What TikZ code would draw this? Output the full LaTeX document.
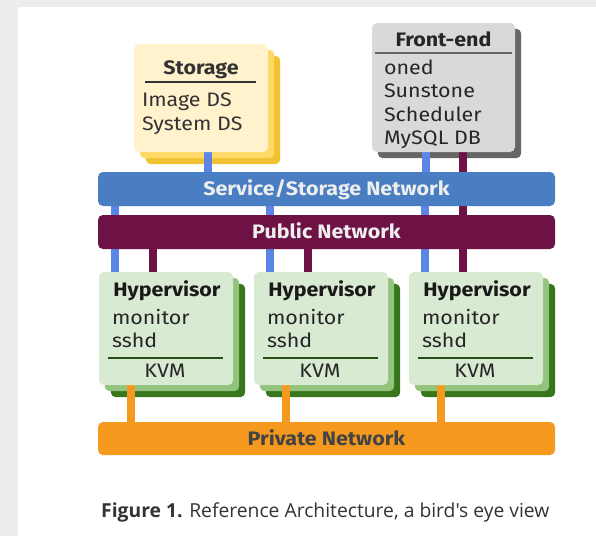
\documentclass[tikz,border=0pt]{standalone}
\usepackage{fontspec}
\setmainfont{Fira Sans}[FakeStretch=1.1]
\newfontfamily\capfont{Open Sans}
\definecolor{pagegray}{HTML}{EDEDED}
\definecolor{txt}{HTML}{333333}
\definecolor{ylwA}{HTML}{FFF2CC}
\definecolor{ylwB}{HTML}{FFD966}
\definecolor{ylwC}{HTML}{F1C232}
\definecolor{gryA}{HTML}{D9D9D9}
\definecolor{gryB}{HTML}{666666}
\definecolor{grnA}{HTML}{D9EAD3}
\definecolor{grnB}{HTML}{93C47D}
\definecolor{grnC}{HTML}{38761D}
\definecolor{grnRule}{HTML}{274E13}
\definecolor{svcBlue}{HTML}{4A7EC2}
\definecolor{wireBlue}{HTML}{5B86E5}
\definecolor{pubPurple}{HTML}{6E1246}
\definecolor{privOrange}{HTML}{F6991F}
\definecolor{barText}{HTML}{EEEEEE}
\definecolor{privText}{HTML}{434343}
\pgfdeclarelayer{pagelayer}
\pgfdeclarelayer{shadowlayer}
\pgfdeclarelayer{wirelayer}
\pgfsetlayers{pagelayer,shadowlayer,wirelayer,main}
\tikzset{
  panel/.style={rounded corners=5pt, inner sep=0pt},
  boxtext/.style={font=\fontsize{19.5}{23}\selectfont, text=txt, inner sep=0pt},
  boxtitle/.style={font=\fontsize{19.5}{23}\selectfont\bfseries, text=txt, inner sep=0pt},
  bar/.style={rounded corners=5pt, minimum width=457pt, inner sep=0pt,
    text height=13.4pt, text depth=0pt, font=\fontsize{19.5}{23}\selectfont\bfseries},
  wire/.style={line width=8pt},
  boxrule/.style={line width=1.8pt, draw=txt},
}
\begin{document}
\begin{tikzpicture}[x=1pt,y=-1pt]
\useasboundingbox (0,0) rectangle (596,536);
\begin{pgfonlayer}{pagelayer}
  \fill[pagegray] (0,0) rectangle (596,536);
  \fill[white] (18,7) rectangle (596,536);
\end{pgfonlayer}

% network bars
\node[bar, fill=svcBlue, text=barText, minimum height=34pt] (svc) at (326.5,189) {Service/Storage Network};
\node[bar, fill=pubPurple, text=barText, minimum height=34pt] (pub) at (326.5,232) {Public Network};
\node[bar, fill=privOrange, text=privText, minimum height=33pt] (priv) at (326.5,438.5) {Private Network};

% storage
\node[panel, fill=ylwA, minimum width=134pt, minimum height=108pt] (storage) at (201,98) {};
\begin{pgfonlayer}{shadowlayer}
  \fill[ylwC, rounded corners=5pt] ([shift={(12,12)}]storage.north west) rectangle ([shift={(12,12)}]storage.south east);
  \fill[ylwB, rounded corners=5pt] ([shift={(6,6)}]storage.north west) rectangle ([shift={(6,6)}]storage.south east);
\end{pgfonlayer}
\node[boxtitle, anchor=base] (storageT) at ([shift={(0,31)}]storage.north) {Storage};
\draw[boxrule] ([shift={(11,38)}]storage.north west) -- ([shift={(-12,38)}]storage.north east);
\node[boxtext, anchor=base west] (imgds) at ([shift={(8,63)}]storage.north west) {Image DS};
\node[boxtext, anchor=base west] (sysds) at ([shift={(8,87)}]storage.north west) {System DS};

% front-end
\node[panel, fill=gryA, minimum width=143pt, minimum height=129pt] (fe) at (443.5,87.5) {};
\begin{pgfonlayer}{shadowlayer}
  \fill[gryB, rounded corners=5pt] ([shift={(6,6)}]fe.north west) rectangle ([shift={(6,6)}]fe.south east);
\end{pgfonlayer}
\node[boxtitle, text=black!85, anchor=base] (feT) at ([shift={(0,24)}]fe.north) {Front-end};
\draw[line width=2.4pt, draw=gryB] ([shift={(3,30)}]fe.north west) -- ([shift={(-3,30)}]fe.north east);
\node[boxtext, text=black!85, anchor=base west] (oned) at ([shift={(12,52)}]fe.north west) {oned};
\node[boxtext, text=black!85, anchor=base west] (sun) at ([shift={(12,75)}]fe.north west) {Sunstone};
\node[boxtext, text=black!85, anchor=base west] (sched) at ([shift={(12,99)}]fe.north west) {Scheduler};
\node[boxtext, text=black!85, anchor=base west] (mysql) at ([shift={(12,122)}]fe.north west) {MySQL DB};

% hypervisors
\foreach \i/\cx in {1/166,2/321,3/476} {
  \node[panel, fill=grnA, minimum width=134pt, minimum height=113pt] (hv\i) at (\cx,328.5) {};
  \begin{pgfonlayer}{shadowlayer}
    \fill[grnC, rounded corners=5pt] ([shift={(12,12)}]hv\i.north west) rectangle ([shift={(12,12)}]hv\i.south east);
    \fill[grnB, rounded corners=5pt] ([shift={(6,6)}]hv\i.north west) rectangle ([shift={(6,6)}]hv\i.south east);
  \end{pgfonlayer}
  \node[boxtitle, text=black!90, anchor=base] (hvT\i) at ([shift={(1,25)}]hv\i.north) {Hypervisor};
  \node[boxtext, text=black!85, anchor=base west] (mon\i) at ([shift={(13,53)}]hv\i.north west) {monitor};
  \node[boxtext, text=black!85, anchor=base west] (ssh\i) at ([shift={(13,76)}]hv\i.north west) {sshd};
  \draw[line width=1.5pt, draw=grnRule] ([shift={(9,86)}]hv\i.north west) -- ([shift={(-10,86)}]hv\i.north east);
  \node[boxtext, text=black!85, anchor=base] (kvm\i) at ([shift={(-1,106)}]hv\i.north) {KVM};
  \begin{pgfonlayer}{wirelayer}
    \draw[wire, wireBlue] ([xshift=16pt]hv\i.north west) -- ([xshift=16pt]hv\i.north west |- svc.center);
    \draw[wire, pubPurple] ([xshift=54pt]hv\i.north west) -- ([xshift=54pt]hv\i.north west |- pub.center);
    \draw[wire, privOrange] ([xshift=32pt]hv\i.south west) -- ([xshift=32pt]hv\i.south west |- priv.center);
  \end{pgfonlayer}
}

% uplinks of storage and front-end
\begin{pgfonlayer}{wirelayer}
  \draw[wire, wireBlue] ([xshift=74pt]storage.south west) -- ([xshift=74pt]storage.south west |- svc.center);
  \draw[wire, wireBlue] ([xshift=54pt]fe.south west) -- ([xshift=54pt]fe.south west |- svc.center);
  \draw[wire, pubPurple] ([xshift=91pt]fe.south west) -- ([xshift=91pt]fe.south west |- pub.center);
\end{pgfonlayer}

% caption
\node[anchor=base west, inner sep=0pt, text=txt, font=\capfont\fontsize{19.3}{22}\selectfont] (caption) at (101,517)
  {\textbf{Figure 1.} Reference Architecture, a bird's eye view};
\end{tikzpicture}
\end{document}
